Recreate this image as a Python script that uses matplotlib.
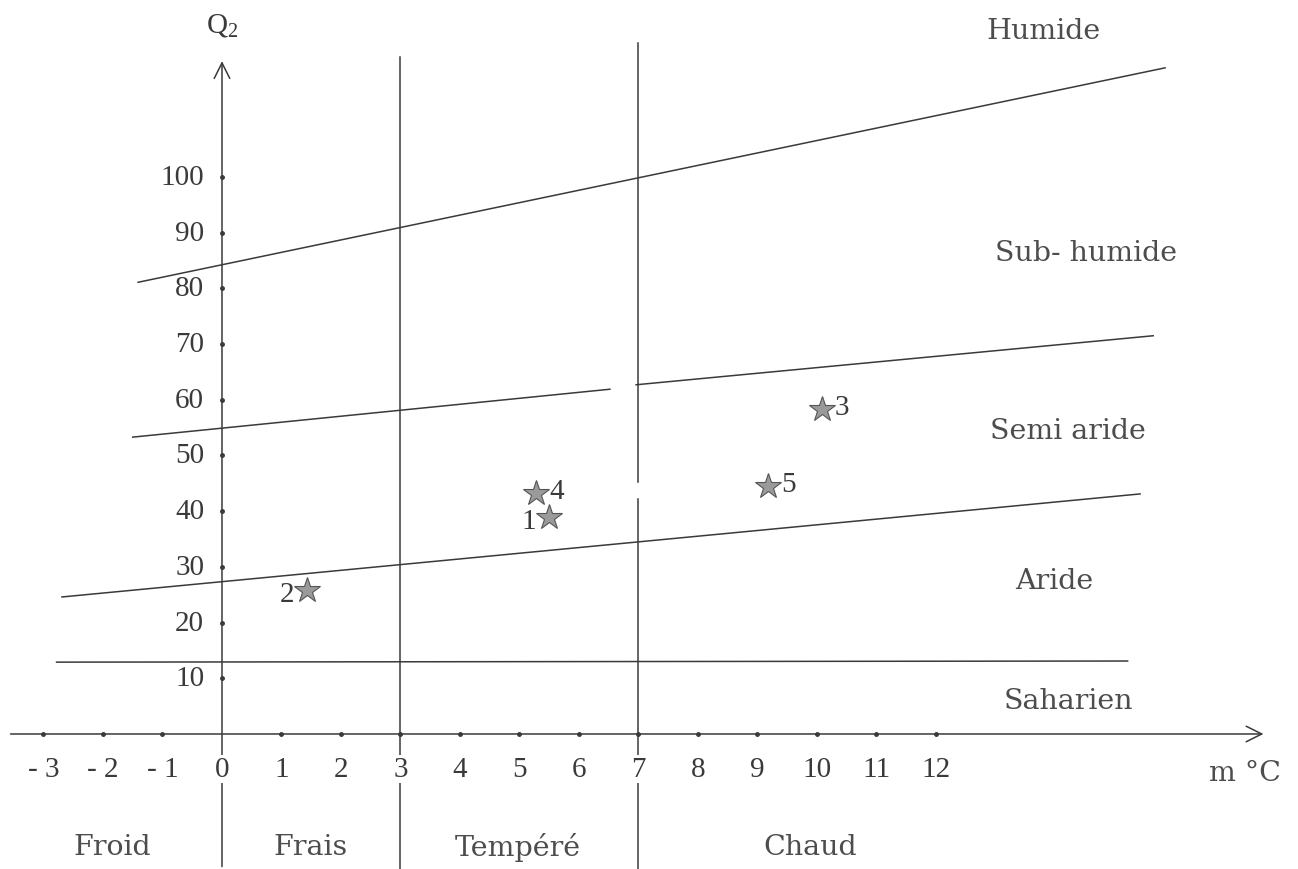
import matplotlib
matplotlib.use("Agg")
import matplotlib.pyplot as plt

# Stations: mean minimum temperature of the coldest month (m, °C) and Emberger quotient Q2
station_ids = ["1", "2", "3", "4", "5"]
station_m = [5.50, 1.43, 10.08, 5.28, 9.18]
station_q2 = [39.0, 25.9, 58.3, 43.3, 44.5]
label_side = ["left", "left", "right", "right", "right"]

# Bioclimatic boundary lines (m, Q2 end points)
humid_line_m = [-1.41, 15.85]
humid_line_q = [81.1, 119.6]
subhumid_line1_m = [-1.50, 6.52]
subhumid_line1_q = [53.3, 61.9]
subhumid_line2_m = [6.96, 15.65]
subhumid_line2_q = [62.7, 71.5]
semiarid_line_m = [-2.69, 15.43]
semiarid_line_q = [24.6, 43.1]
arid_line_m = [-2.78, 15.22]
arid_line_q = [12.9, 13.1]

# Winter variant limits (m, °C)
winter_limits = [3, 7]

x_ticks = [-3, -2, -1, 0, 1, 2, 3, 4, 5, 6, 7, 8, 9, 10, 11, 12]
x_tick_labels = ["- 3", "- 2", "- 1", "0", "1", "2", "3", "4", "5", "6",
                 "7", "8", "9", "10", "11", "12"]
y_ticks = [10, 20, 30, 40, 50, 60, 70, 80, 90, 100]

bioclimate_names = ["Humide", "Sub- humide", "Semi aride", "Aride", "Saharien"]
bioclimate_pos = [(13.80, 126.3), (14.53, 86.5), (14.22, 54.4), (13.98, 27.6), (14.23, 6.0)]
winter_names = ["Froid", "Frais", "Tempéré", "Chaud"]
winter_pos = [-1.85, 1.48, 4.98, 9.88]

ink = "#3a3a3a"
word_ink = "#4d4d4d"
num_font = "Liberation Serif"
word_font = "DejaVu Serif"
fs = 21
wfs = 20.5

plt.rcParams["mathtext.fontset"] = "custom"
plt.rcParams["mathtext.rm"] = num_font

fig = plt.figure(figsize=(12.98, 8.70), dpi=100)
ax = fig.add_axes([0, 0, 1, 1])
ax.set_xlim(-3.731, 18.084)
ax.set_ylim(-24.24, 131.96)
ax.axis("off")

lw = 1.1
# Axes with arrows
ax.annotate("", xy=(17.55, 0), xytext=(-3.6, 0),
            arrowprops=dict(arrowstyle="->", color=ink, lw=lw, mutation_scale=28))
ax.annotate("", xy=(0, 121.3), xytext=(0, -24.3),
            arrowprops=dict(arrowstyle="->", color=ink, lw=lw, mutation_scale=28))

# Winter variant separators
ax.plot([winter_limits[0]] * 2, [-24.3, 121.6], color=ink, lw=lw)
ax.plot([winter_limits[1]] * 2, [-24.3, 42.2], color=ink, lw=lw)
ax.plot([winter_limits[1]] * 2, [45.2, 124.0], color=ink, lw=lw)

# Boundary lines
for mx, qy in [(humid_line_m, humid_line_q), (subhumid_line1_m, subhumid_line1_q),
               (subhumid_line2_m, subhumid_line2_q), (semiarid_line_m, semiarid_line_q),
               (arid_line_m, arid_line_q)]:
    ax.plot(mx, qy, color=ink, lw=lw)

# Tick dots
ax.plot([t for t in x_ticks if t != 0], [0] * (len(x_ticks) - 1), "o",
        color=ink, ms=2.5, ls="none")
ax.plot([0] * len(y_ticks), y_ticks, "o", color=ink, ms=2.5, ls="none")

# Tick labels
for t, lab in zip(x_ticks, x_tick_labels):
    ax.text(t, -6.3, lab, ha="center", va="center", fontsize=fs, family=num_font,
            color=ink, bbox=dict(facecolor="white", edgecolor="none", pad=0.5))
for t in y_ticks:
    ax.text(-0.30, t, str(t), ha="right", va="center", fontsize=fs,
            family=num_font, color=ink)

# Axis titles
ax.text(0.0, 127.5, r"$\mathrm{Q_2}$", ha="center", va="center", fontsize=fs,
        color=ink)
ax.text(17.2, -7.0, "m °C", ha="center", va="center", fontsize=wfs,
        family=word_font, color=word_ink)

# Region names
for name, (mx, qy) in zip(bioclimate_names, bioclimate_pos):
    ax.text(mx, qy, name, ha="center", va="center", fontsize=wfs,
            family=word_font, color=word_ink)
for name, mx in zip(winter_names, winter_pos):
    ax.text(mx, -20.2, name, ha="center", va="center", fontsize=wfs,
            family=word_font, color=word_ink)

# Stations
ax.plot(station_m, station_q2, "*", color="#9a9a9a", mec="#555555", mew=0.8,
        ms=19, ls="none")
for sid, mx, qy, side in zip(station_ids, station_m, station_q2, label_side):
    if side == "left":
        ax.text(mx - 0.22, qy - 0.8, sid, ha="right", va="center", fontsize=fs,
                family=num_font, color=ink)
    else:
        ax.text(mx + 0.22, qy + 0.4, sid, ha="left", va="center", fontsize=fs,
                family=num_font, color=ink)

fig.savefig("out.png", dpi=100, facecolor="white")
